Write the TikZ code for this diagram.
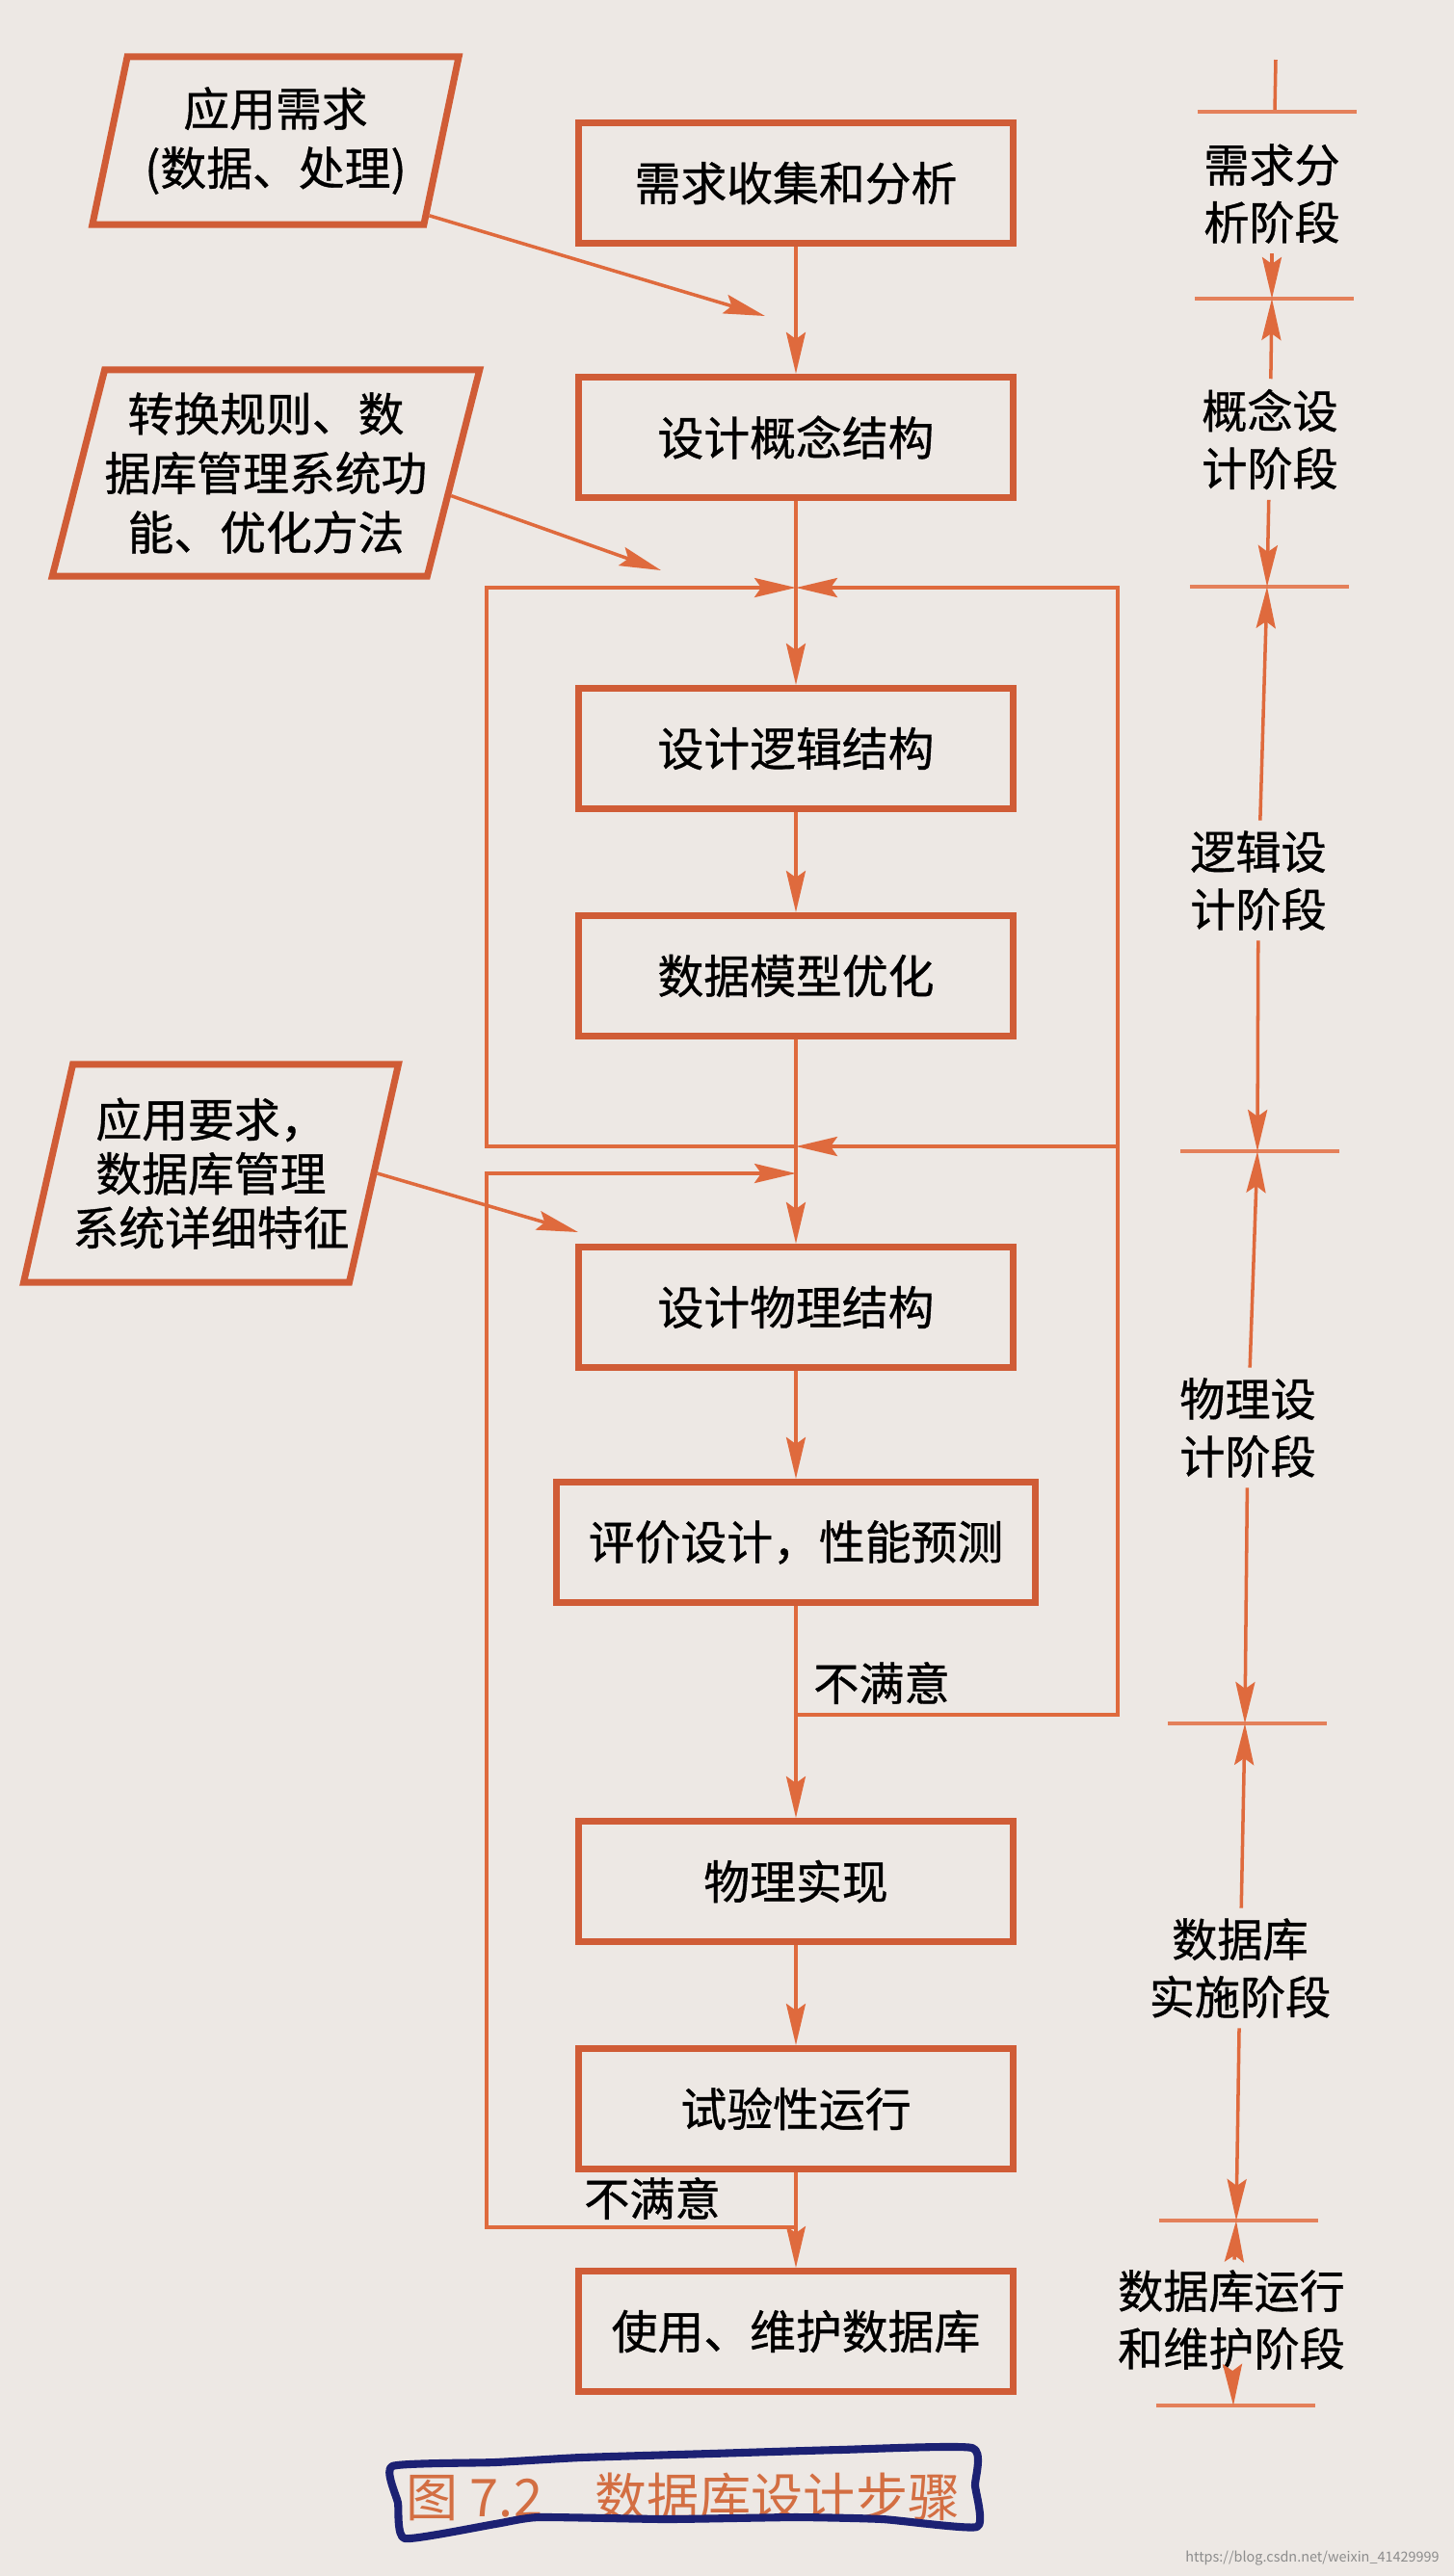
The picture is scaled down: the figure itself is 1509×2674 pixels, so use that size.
\documentclass[tikz,border=0pt]{standalone}
\usepackage{fontspec}
\setmainfont{Noto Sans CJK SC}[FakeBold=0.8]
\newfontfamily\captionfont{Noto Sans CJK SC}
\usepackage{xcolor}
\usetikzlibrary{arrows.meta,shapes.geometric}
\definecolor{PaperGrey}{HTML}{EDE8E4}
\definecolor{StepOrange}{HTML}{D05C36}
\definecolor{FlowOrange}{HTML}{DF6A3D}
\definecolor{InkBlue}{HTML}{1C2173}
\definecolor{CaptionOrange}{HTML}{D36E42}

\tikzset{
  stepbox/.style={draw=StepOrange, line width=2pt, minimum width=4.5cm,
    minimum height=1.25cm, inner sep=0pt, font=\fontsize{13.6pt}{17.5pt}\selectfont},
  inputbox/.style={draw=StepOrange, line width=2pt, shape=trapezium,
    trapezium left angle=72, trapezium right angle=108,
    trapezium stretches body=true, align=center, inner sep=0pt,
    font=\fontsize{13.6pt}{17.5pt}\selectfont},
  flowarrow/.style={draw=FlowOrange, line width=1pt,
    -{Stealth[length=0.43cm,width=0.2cm,inset=0.07cm,fill=FlowOrange]}},
  plainline/.style={draw=FlowOrange, line width=1pt},
  phasetick/.style={draw=FlowOrange!85!white, line width=0.9pt},
  phase/.style={align=center, inner sep=0.1cm, font=\fontsize{13.4pt}{17pt}\selectfont},
  remark/.style={inner sep=0pt, font=\fontsize{13.4pt}{17pt}\selectfont}
}

\begin{document}
\begin{tikzpicture}[x=0.01cm, y=-0.01cm]
  \useasboundingbox (0,0) rectangle (1509,2674);
  \fill[PaperGrey] (0,0) rectangle (1509,2674);

  % main column
  \node[stepbox] (collect) at (826,190) {需求收集和分析};
  \node[stepbox] (concept) at (826,454) {设计概念结构};
  \node[stepbox] (logic) at (826,777) {设计逻辑结构};
  \node[stepbox] (optimize) at (826,1013) {数据模型优化};
  \node[stepbox] (physical) at (826,1357) {设计物理结构};
  \node[stepbox, minimum width=4.97cm] (evaluate) at (826,1601) {评价设计，性能预测};
  \node[stepbox] (implement) at (826,1953) {物理实现};
  \node[stepbox] (trial) at (826,2189) {试验性运行};
  \node[stepbox] (maintain) at (826,2420) {使用、维护数据库};

  % inputs on the left
  \node[inputbox, minimum width=3.8cm, minimum height=1.74cm] (needs) at (286,146)
    {应用需求\\(数据、处理)};
  \node[inputbox, minimum width=4.19cm, minimum height=2.14cm] (rules) at (276,491)
    {转换规则、数\\据库管理系统功\\能、优化方法};
  \node[inputbox, minimum width=3.7cm, minimum height=2.26cm,
    font=\fontsize{13.6pt}{16pt}\selectfont] (demands) at (219,1218)
    {应用要求，\\数据库管理\\系统详细特征};

  \coordinate (in1) at (794,328);
  \coordinate (in2) at (686,592);
  \coordinate (in3) at (600,1279);
  \draw[flowarrow] (needs.-26) -- (in1);
  \draw[flowarrow] (rules.-7) -- (in2);
  \draw[flowarrow] (demands.east) -- (in3);

  % junctions and loop corners
  \coordinate (jlogic) at (826,610);
  \coordinate (jphys1) at (826,1190);
  \coordinate (jphys2) at (826,1218);
  \coordinate (jeval) at (826,1780);
  \coordinate (jtrial) at (826,2312);
  \coordinate (rtop) at (1160,610);
  \coordinate (rmid) at (1160,1190);
  \coordinate (rbot) at (1160,1780);
  \coordinate (ltop) at (505,610);
  \coordinate (lmid) at (505,1190);
  \coordinate (lmid2) at (505,1218);
  \coordinate (lbot) at (505,2312);

  \draw[flowarrow] (collect) -- (concept);
  \draw[flowarrow] (concept) -- (logic);
  \draw[flowarrow] (logic) -- (optimize);
  \draw[flowarrow] (optimize) -- (physical);
  \draw[flowarrow] (physical) -- (evaluate);
  \draw[flowarrow] (evaluate) -- (implement);
  \draw[flowarrow] (implement) -- (trial);
  \draw[flowarrow] (trial) -- (maintain);

  % feedback loops
  \draw[flowarrow] (jeval) -- (rbot) -- (rtop) -- (jlogic);
  \draw[flowarrow] (rmid) -- (jphys1);
  \draw[flowarrow] (jphys1) -- (lmid) -- (ltop) -- (jlogic);
  \draw[flowarrow] (jtrial) -- (lbot) -- (lmid2) -- (jphys2);

  \node[remark] (fail1) at (915,1747) {不满意};
  \node[remark] (fail2) at (677,2282) {不满意};

  % phase axis on the right
  \coordinate (t0) at (1324,62);
  \coordinate (t1) at (1323,116);
  \coordinate (t2) at (1320,310);
  \coordinate (t3) at (1315,609);
  \coordinate (t4) at (1305,1195);
  \coordinate (t5) at (1292,1789);
  \coordinate (t6) at (1283,2305);
  \coordinate (t7) at (1280,2497);
  \draw[plainline] (t0) -- (t1);
  \foreach \i in {1,...,7}
    \draw[phasetick] ([xshift=-0.8cm]t\i) -- ([xshift=0.85cm]t\i);

  \node[phase] (s1) at (1320,201) {需求分\\析阶段};
  \node[phase] (s2) at (1318,456) {概念设\\计阶段};
  \node[phase] (s3) at (1306,914) {逻辑设\\计阶段};
  \node[phase] (s4) at (1295,1482) {物理设\\计阶段};
  \node[phase] (s5) at (1287,2043) {数据库\\实施阶段};
  \node[phase] (s6) at (1278,2408) {数据库运行\\和维护阶段};

  \draw[flowarrow] (s1) -- (t2);
  \foreach \i/\j in {2/3,3/4,4/5,5/6,6/7} {
    \draw[flowarrow] (s\i) -- (t\i);
    \draw[flowarrow] (s\i) -- (t\j);
  }

  % caption with the pen mark round it
  \node[font=\captionfont\fontsize{15.4pt}{18pt}\selectfont, text=CaptionOrange] (caption) at (709,2592)
    {图 7.2\hspace{1em}数据库设计步骤};
  \draw[InkBlue, line width=2.3pt, line join=round] plot[smooth cycle, tension=0.3] coordinates
    {(407,2560) (514,2556) (603,2551) (737,2547) (871,2543) (1009,2541) (1012,2580)
     (1014,2623) (916,2615) (826,2613) (692,2615) (559,2613) (514,2620) (420,2635) (413,2598)};

  \node[font=\captionfont\fontsize{4.1pt}{5pt}\selectfont, text=black!45] (mark) at (1362,2656)
    {https://blog.csdn.net/weixin\_41429999};
\end{tikzpicture}
\end{document}
